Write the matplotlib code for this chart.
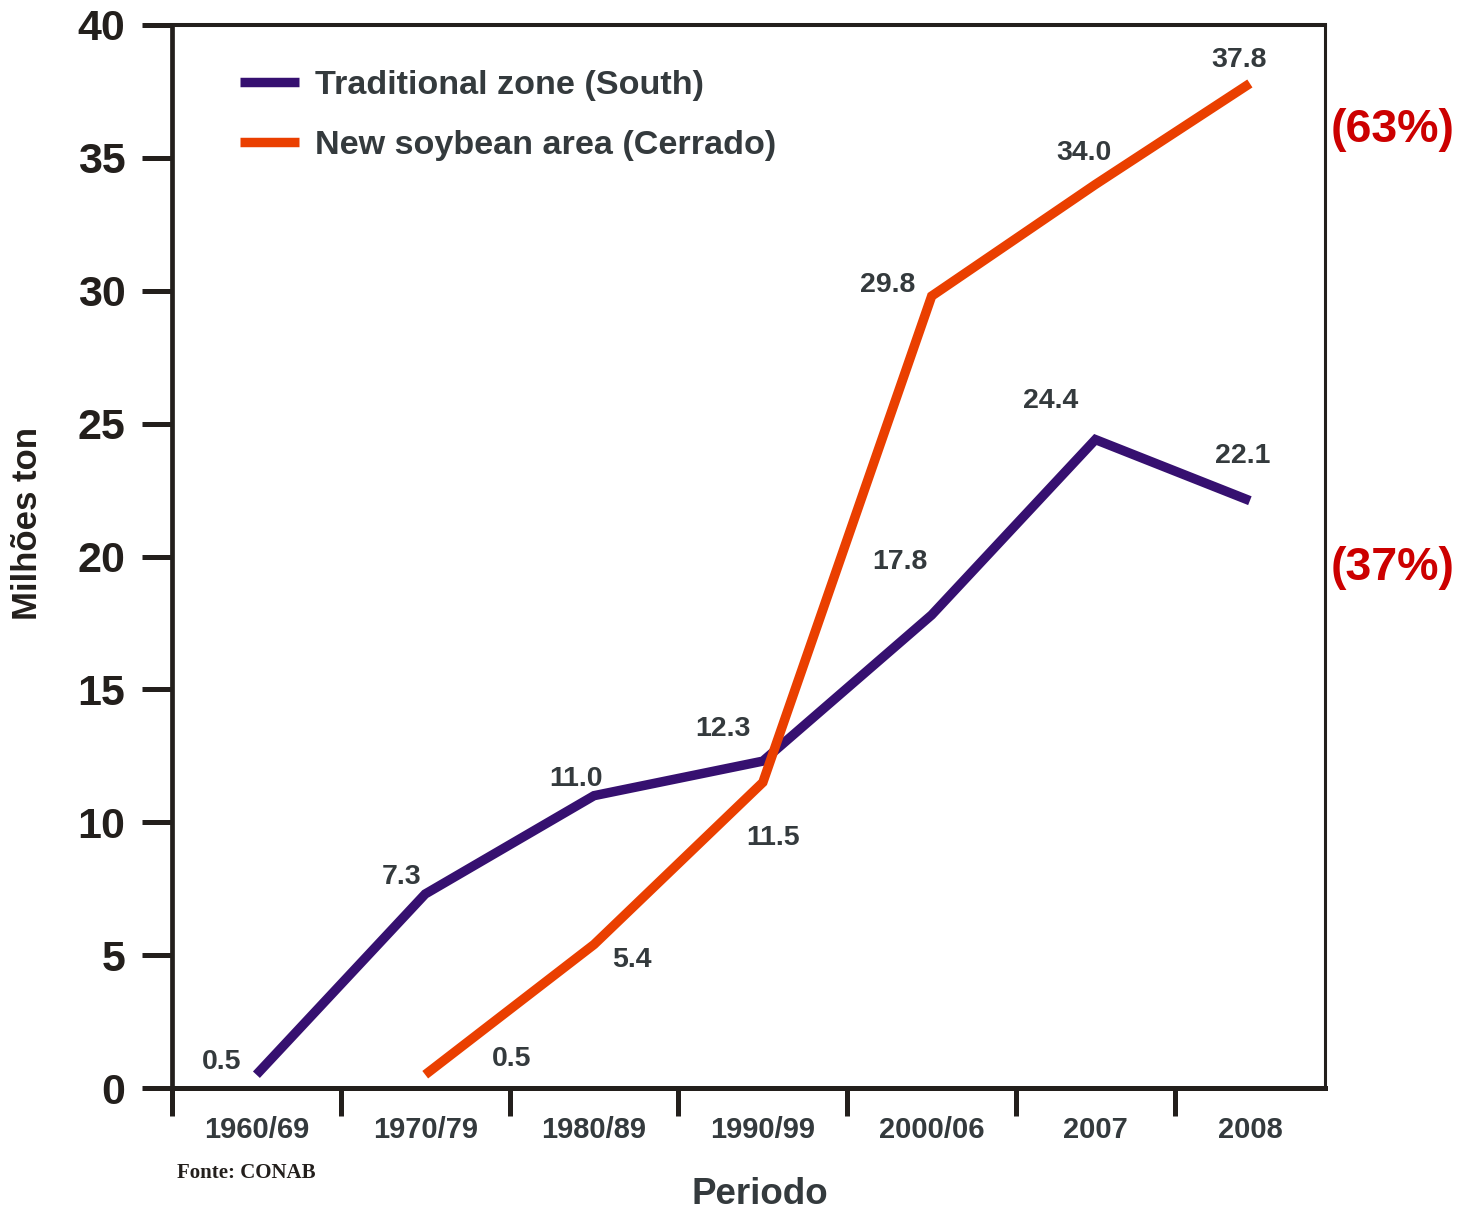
import numpy as np
import matplotlib
matplotlib.use("Agg")
import matplotlib.pyplot as plt

plt.rcParams['font.family'] = ['Liberation Sans', 'DejaVu Sans']
plt.rcParams['font.weight'] = 'bold'

# ---- data ----
periods = ["1960/69", "1970/79", "1980/89", "1990/99", "2000/06", "2007", "2008"]
south = [0.5, 7.3, 11.0, 12.3, 17.8, 24.4, 22.1]          # Traditional zone (South)
cerrado = [None, 0.5, 5.4, 11.5, 29.8, 34.0, 37.8]         # New soybean area (Cerrado)
share_labels = ["(63%)", "(37%)"]

# ---- layout ----
# category boundaries along x (last bin is a bit narrower)
edges = np.array([0, 1, 2, 3, 4, 5, 5.94, 6.83])
centers = (edges[:-1] + edges[1:]) / 2
# value-label offsets in points (dx, dy)
south_off = [(-25, 9), (-17, 12), (-13, 12), (-29, 23), (-23, 38), (-32, 28), (-5, 32)]
cerrado_off = [None, (62, 11), (27, -11), (7, -40), (-32, 8), (-8, 23), (-8, 17)]

PURPLE = "#361070"
ORANGE = "#ea3f00"
RED = "#cc0000"
INK = "#231f1c"
GREY = "#343a3d"

W, H = 1468, 1217
fig = plt.figure(figsize=(W / 100, H / 100), dpi=100)
ax = fig.add_axes([172 / W, 1 - 1088 / H, (1325 - 172) / W, (1088 - 25) / H])

xs_s = centers
xs_c = centers[1:]
ys_c = cerrado[1:]

ax.plot(xs_s, south, color=PURPLE, lw=6.8, solid_capstyle='butt',
        solid_joinstyle='miter', label="Traditional zone (South)", zorder=3)
ax.plot(xs_c, ys_c, color=ORANGE, lw=6.8, solid_capstyle='butt',
        solid_joinstyle='miter', label="New soybean area (Cerrado)", zorder=3)

for x, v, off in zip(xs_s, south, south_off):
    ax.annotate(f"{v:.1f}", (x, v), xytext=off, textcoords='offset points',
                ha='center', va='center', fontsize=20.5, fontweight='bold', color=GREY)
for x, v, off in zip(centers, cerrado, cerrado_off):
    if v is None:
        continue
    ax.annotate(f"{v:.1f}", (x, v), xytext=off, textcoords='offset points',
                ha='center', va='center', fontsize=20.5, fontweight='bold', color=GREY)

ax.set_xlim(edges[0], edges[-1])
ax.set_ylim(0, 40)

# spines
for side, lw in (("left", 3.4), ("bottom", 3.6), ("top", 2.9), ("right", 2.2)):
    ax.spines[side].set_linewidth(lw)
    ax.spines[side].set_color(INK)

# y axis
ax.set_yticks(np.arange(0, 41, 5))
ax.tick_params(axis='y', direction='out', length=21.6, width=3.6, color=INK,
               pad=12, labelsize=31, labelcolor=INK)
for t in ax.get_yticklabels():
    t.set_fontweight('bold')

# x axis: ticks at bin edges, labels at bin centers
ax.set_xticks(edges[:-1])
ax.set_xticklabels([])
ax.set_xticks(centers, minor=True)
ax.set_xticklabels(periods, minor=True, fontsize=21, fontweight='bold', color=GREY)
ax.tick_params(axis='x', which='major', direction='out', length=20, width=3.6, color=INK)
ax.tick_params(axis='x', which='minor', length=0, pad=20)

leg = ax.legend(loc='upper left', bbox_to_anchor=(240 / W, 1 - 70 / H),
                bbox_transform=fig.transFigure, frameon=False, fontsize=24.6,
                handlelength=1.72, handletextpad=0.47, labelspacing=0.84,
                borderpad=0, borderaxespad=0, labelcolor=GREY)
for t in leg.get_texts():
    t.set_fontweight('bold')

fig.text(760 / W, 1 - 1195 / H, "Periodo", ha='center', va='center',
         fontsize=26.5, fontweight='bold', color=GREY)
fig.text(28 / W, 1 - 523 / H, "Milhões ton", ha='center', va='center',
         rotation=90, fontsize=25, fontweight='bold', color=INK)
fig.text(177 / W, 1 - 1173 / H, "Fonte: CONAB", ha='left', va='center',
         fontsize=15, fontweight='bold', color=INK,
         family=['Liberation Serif', 'DejaVu Serif'])

fig.text(1393 / W, 1 - 130 / H, share_labels[0], ha='center', va='center',
         fontsize=33.5, fontweight='bold', color=RED)
fig.text(1393 / W, 1 - 568 / H, share_labels[1], ha='center', va='center',
         fontsize=33.5, fontweight='bold', color=RED)

fig.savefig("out.png", dpi=100)
